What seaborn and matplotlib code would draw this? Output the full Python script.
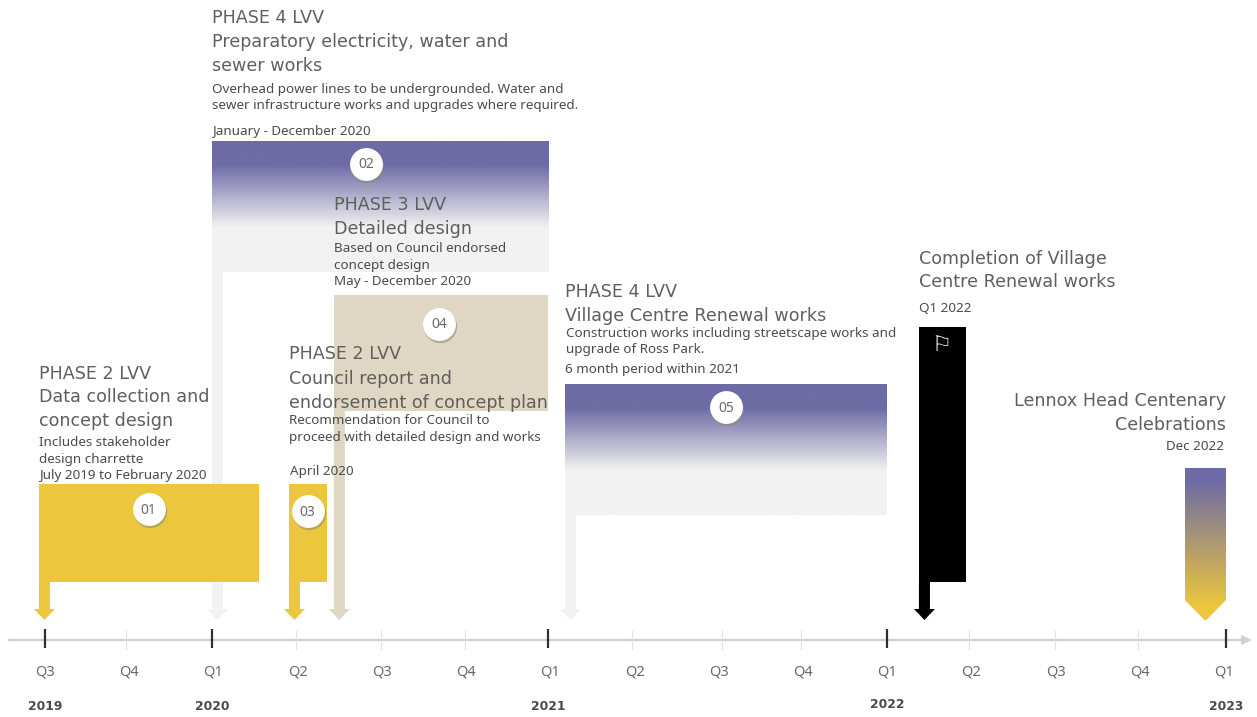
"""Lennox Head village centre programme timeline, rebuilt with seaborn."""

import numpy as np
import pandas as pd
import matplotlib
matplotlib.use("Agg")
import matplotlib.pyplot as plt
from matplotlib.colors import LinearSegmentedColormap
from matplotlib.patches import Polygon
from matplotlib.transforms import Affine2D
import seaborn as sns

# Timeline values, in decimal years
quarter_labels = ["Q3", "Q4", "Q1", "Q2", "Q3", "Q4", "Q1", "Q2", "Q3", "Q4", "Q1", "Q2", "Q3", "Q4", "Q1"]
quarter_ticks = [2019.5, 2019.74, 2019.995, 2020.244, 2020.496, 2020.745, 2020.991, 2021.24,
                 2021.506, 2021.74, 2021.995, 2022.238, 2022.493, 2022.739, 2023.0]
year_labels = ["2019", "2020", "2021", "2022", "2023"]
year_ticks = [2019.5, 2019.995, 2020.991, 2021.995, 2023.0]

# Phase bars: start, end (years), bottom, top (height above the axis line)
phase_ids = ["01", "02", "03", "04", "05", "flag"]
phase_start = [2019.482, 2019.995, 2020.223, 2020.356, 2021.041, 2022.09]
phase_end = [2020.134, 2020.991, 2020.336, 2020.991, 2021.995, 2022.229]
phase_bottom = [58, 368, 58, 229, 125, 58]
phase_top = [156, 499, 156, 345, 256, 313]
phase_fill = ["yellow", "fade", "yellow", "tan", "fade", "black"]

# Number badges
badge_ids = ["01", "02", "03", "04", "05"]
badge_year = [2019.807, 2020.451, 2020.278, 2020.667, 2021.518]
badge_height = [131, 476, 129, 316, 233]

# Centenary marker
centenary_start = 2022.878
centenary_end = 2023.0
centenary_top = 172
centenary_shoulder = 40
centenary_tip = 19

PURPLE = "#6e6ba5"
YELLOW = "#ecc63c"
TAN = "#dfd7c3"
PALE = "#f2f2f2"
HEAD = "#5f5f5f"
BODY = "#4a4a4a"
HEAD_FONT = "DejaVu Sans"
BODY_FONT = "Noto Sans"

W, H = 1257, 717
AXIS_Y = 640
PX_PER_YEAR = 337.43
YEAR_AT_0 = 2019.5 - 45 / PX_PER_YEAR

# text blocks: x, y (picture pixels), size class, text
big = 12.6
small = 9.7
text_rows = [
    (39, 374, big, "PHASE 2 LVV"), (39, 397, big, "Data collection and"), (39, 421, big, "concept design"),
    (39, 443, small, "Includes stakeholder"), (39, 460, small, "design charrette"),
    (39, 476, small, "July 2019 to February 2020"),
    (212, 18, big, "PHASE 4 LVV"), (212, 42, big, "Preparatory electricity, water and"),
    (212, 66, big, "sewer works"), (212, 89, small, "Overhead power lines to be undergrounded. Water and"),
    (212, 106, small, "sewer infrastructure works and upgrades where required."),
    (212, 132, small, "January - December 2020"),
    (334, 205, big, "PHASE 3 LVV"), (334, 229, big, "Detailed design"),
    (334, 248, small, "Based on Council endorsed"), (334, 265, small, "concept design"),
    (334, 282, small, "May - December 2020"),
    (289, 354, big, "PHASE 2 LVV"), (289, 379, big, "Council report and"),
    (289, 403, big, "endorsement of concept plan"), (289, 421, small, "Recommendation for Council to"),
    (289, 438, small, "proceed with detailed design and works"), (290, 471, small, "April 2020"),
    (565, 292, big, "PHASE 4 LVV"), (565, 316, big, "Village Centre Renewal works"),
    (566, 333, small, "Construction works including streetscape works and"),
    (566, 350, small, "upgrade of Ross Park."), (565, 370, small, "6 month period within 2021"),
    (919, 259, big, "Completion of Village"), (919, 282, big, "Centre Renewal works"),
    (919, 309, small, "Q1 2022"),
]
right_rows = [
    (1226, 401, big, "Lennox Head Centenary"), (1226, 425, big, "Celebrations"), (1224, 446, small, "Dec 2022"),
]

sns.set_theme(style="white")
plt.rcParams["font.family"] = [BODY_FONT, "DejaVu Sans"]

phases = pd.DataFrame({
    "id": phase_ids, "start": phase_start, "end": phase_end,
    "bottom": phase_bottom, "top": phase_top, "fill": phase_fill,
})
badges = pd.DataFrame({"id": badge_ids, "year": badge_year, "height": badge_height})

fig = plt.figure(figsize=(W / 100, H / 100), dpi=100)
ax = fig.add_axes([0, 0, 1, 1])
ax.set_axis_off()
xlim = (YEAR_AT_0, YEAR_AT_0 + W / PX_PER_YEAR)
ylim = (AXIS_Y - H, AXIS_Y)

fade_cmap = LinearSegmentedColormap.from_list(
    "fade", [(0, PURPLE), (0.18, PURPLE), (0.66, PALE), (1, PALE)])
centenary_cmap = LinearSegmentedColormap.from_list(
    "centenary", [(0, PURPLE), (0.08, PURPLE), (0.9, YELLOW), (1, YELLOW)])
ramp = np.linspace(0, 1, 256).reshape(-1, 1)
solid = {"yellow": YELLOW, "tan": TAN, "black": "#000000"}
drop_colour = {"yellow": YELLOW, "tan": TAN, "black": "#000000", "fade": PALE}

STEM = 11 / PX_PER_YEAR
HEAD_HALF = 10.5 / PX_PER_YEAR


def draw_drop(start, bottom, colour, z):
    """Stem and arrow head running from a bar down to the timeline."""
    mid = start + STEM / 2
    ax.fill([start, start + STEM, start + STEM, mid + HEAD_HALF, mid, mid - HEAD_HALF, start],
            [bottom, bottom, 31, 31, 20, 31, 31], color=colour, lw=0, zorder=z)


for i, row in phases.iterrows():
    z = 2 + i * 0.1
    if row["id"] in ("02", "04"):
        z = 1 + i * 0.1
    draw_drop(row["start"], row["bottom"], drop_colour[row["fill"]], z)
    if row["fill"] == "fade":
        ax.imshow(ramp, cmap=fade_cmap, aspect="auto", zorder=z, interpolation="bilinear",
                  extent=(row["start"], row["end"], row["bottom"], row["top"]))
    else:
        ax.bar(row["start"], row["top"] - row["bottom"], row["end"] - row["start"],
               bottom=row["bottom"], align="edge", color=solid[row["fill"]], lw=0, zorder=z)

# centenary pentagon, gradient clipped to the shape
im = ax.imshow(ramp, cmap=centenary_cmap, aspect="auto", zorder=2, interpolation="bilinear",
               extent=(centenary_start, centenary_end, centenary_tip, centenary_top))
mid_c = (centenary_start + centenary_end) / 2
shape = Polygon([(centenary_start, centenary_top), (centenary_end, centenary_top),
                 (centenary_end, centenary_shoulder), (mid_c, centenary_tip),
                 (centenary_start, centenary_shoulder)],
                transform=ax.transData, facecolor="none", edgecolor="none")
ax.add_patch(shape)
im.set_clip_path(shape)

# timeline
axis_line = pd.DataFrame({"x": [YEAR_AT_0 + 9 / PX_PER_YEAR, YEAR_AT_0 + 1242 / PX_PER_YEAR], "y": [0, 0]})
sns.lineplot(data=axis_line, x="x", y="y", color="#d0d0d0", lw=1.6, ax=ax, zorder=3, legend=False)
ax.fill([YEAR_AT_0 + 1241 / PX_PER_YEAR, YEAR_AT_0 + 1252 / PX_PER_YEAR, YEAR_AT_0 + 1241 / PX_PER_YEAR],
        [5, 0, -5], color="#d0d0d0", lw=0, zorder=3)
minor = [q for q in quarter_ticks if q not in year_ticks]
ax.vlines(minor, -10, 10, color="#e2e2e2", lw=0.8, zorder=3)
ax.vlines(year_ticks, -8, 11, color="#303030", lw=1.6, zorder=4)

# badges
shadow = badges.assign(year=badges["year"] + 1.5 / PX_PER_YEAR, height=badges["height"] - 2)
sns.scatterplot(data=shadow, x="year", y="height", s=575, color="#8f8770", alpha=0.55,
                linewidth=0, ax=ax, zorder=5, legend=False)
sns.scatterplot(data=badges, x="year", y="height", s=560, color="white",
                linewidth=0, ax=ax, zorder=6, legend=False)
for _, row in badges.iterrows():
    ax.text(row["year"], row["height"] - 1, row["id"], ha="center", va="center",
            fontsize=10, color="#6a6a6a", zorder=7)

ax.set_xlim(*xlim)
ax.set_ylim(*ylim)
ax.set_xlabel("")
ax.set_ylabel("")

# text is placed in picture pixels
to_px = Affine2D().scale(1 / W, -1 / H).translate(0, 1) + fig.transFigure
for rows, align in ((text_rows, "left"), (right_rows, "right")):
    for x, y, size, label in rows:
        ax.text(x, y, label, transform=to_px, fontsize=size, va="center", ha=align,
                family=HEAD_FONT if size == big else BODY_FONT,
                color=HEAD if size == big else BODY, zorder=8)

q_x = np.linspace(45, 1224, len(quarter_labels))
for x, label in zip(q_x, quarter_labels):
    ax.text(x, 672, label, transform=to_px, fontsize=10.5, ha="center", va="center", color="#6a6a6a")
year_y = [706, 707, 706, 705, 706]
for year, y, label in zip(year_ticks, year_y, year_labels):
    ax.text(year, 640 - y, label, fontsize=8.8, fontweight="bold", family="DejaVu Sans",
            ha="center", va="center", color="#4a4a4a")

# flag icon on the black bar
ax.text(941, 345, "\u2690", transform=to_px, fontsize=16, ha="center", va="center",
        color="white", family="DejaVu Sans", zorder=8)

fig.savefig("out.png", dpi=100)
plt.close(fig)
